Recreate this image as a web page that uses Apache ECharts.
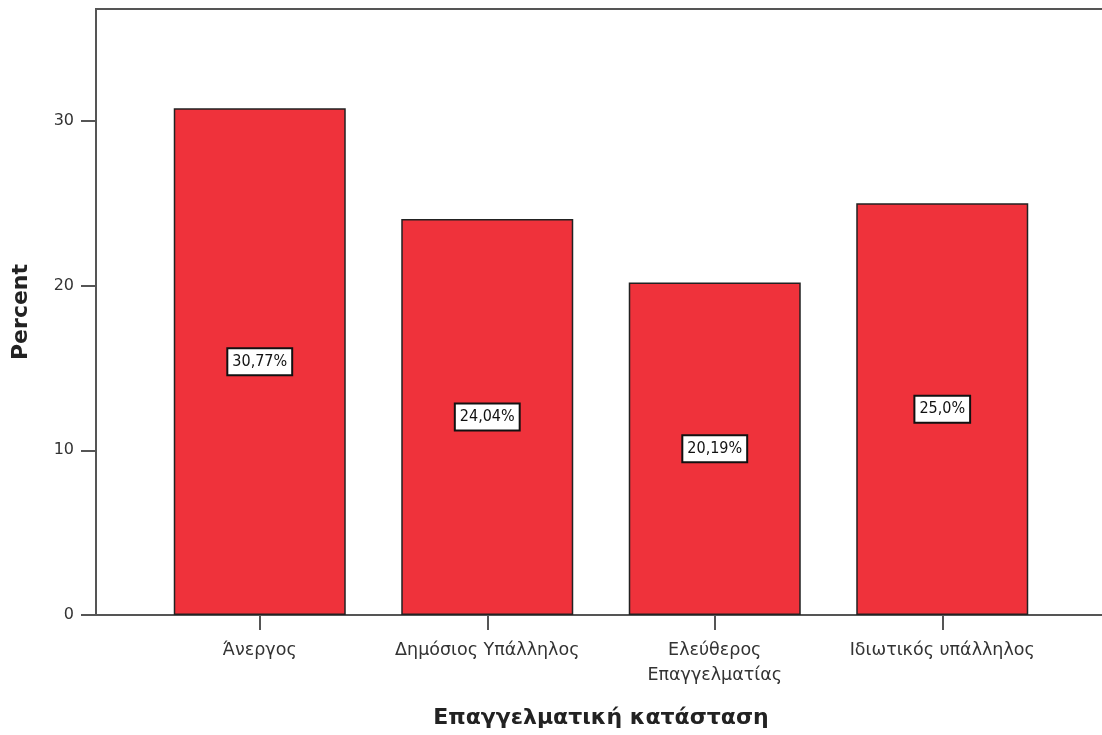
<!DOCTYPE html>
<html>
<head>
<meta charset="utf-8">
<script src="https://cdn.jsdelivr.net/npm/echarts@6/dist/echarts.min.js"></script>
<style>
html,body{margin:0;padding:0;background:#fff;}
#c{width:1102px;height:735px;}
</style>
</head>
<body>
<div id="c"></div>
<script>
const categories = ['Άνεργος', 'Δημόσιος Υπάλληλος', 'Ελεύθερος\nΕπαγγελματίας', 'Ιδιωτικός υπάλληλος'];
const percents = [30.77, 24.04, 20.19, 25.0];
const valueLabels = ['30,77%', '24,04%', '20,19%', '25,0%'];
const yMin = 0, yMax = 36.8, yStep = 10;
const xTitle = 'Επαγγελματική κατάσταση';
const yTitle = 'Percent';

const chart = echarts.init(document.getElementById('c'), null, {renderer: 'canvas'});
const font = 'DejaVu Sans, Verdana, sans-serif';
chart.setOption({
  animation: false,
  backgroundColor: '#ffffff',
  grid: [
    {left: 96, right: -3, top: 9, bottom: 120, show: true, borderColor: '#555', borderWidth: 2,
     backgroundColor: 'transparent', outerBoundsMode: 'none', containLabel: false},
    {left: 146, right: 46, top: 9, bottom: 120, outerBoundsMode: 'none', containLabel: false}
  ],
  xAxis: [
    {gridIndex: 0, type: 'value', min: 0, max: 1, show: true,
     axisLine: {show: true, lineStyle: {color: '#555', width: 2}},
     axisTick: {show: false}, axisLabel: {show: false}, splitLine: {show: false}},
    {gridIndex: 1, type: 'category', data: categories,
     axisLine: {show: false},
     axisTick: {show: true, alignWithLabel: true, interval: 0, length: 15, lineStyle: {color: '#555', width: 2}},
     axisLabel: {interval: 0, hideOverlap: false, margin: 23, fontSize: 17.5, color: '#333', fontFamily: font, lineHeight: 25},
     name: xTitle, nameLocation: 'middle', nameGap: 92,
     nameTextStyle: {fontSize: 22, fontWeight: 'bold', color: '#222', fontFamily: font}}
  ],
  yAxis: [
    {gridIndex: 0, type: 'value', min: yMin, max: yMax, interval: yStep,
     axisLine: {show: true, lineStyle: {color: '#555', width: 2}},
     axisTick: {show: true, length: 15, lineStyle: {color: '#555', width: 2}},
     axisLabel: {margin: 22, fontSize: 16, color: '#333', fontFamily: font, showMaxLabel: false},
     splitLine: {show: false},
     name: yTitle, nameLocation: 'middle', nameGap: 64, nameRotate: 90,
     nameTextStyle: {fontSize: 22, fontWeight: 'bold', color: '#222', fontFamily: font}},
    {gridIndex: 1, type: 'value', min: yMin, max: yMax, interval: yStep, show: false, splitLine: {show: false}}
  ],
  series: [{
    type: 'bar',
    xAxisIndex: 1, yAxisIndex: 1,
    data: percents,
    barWidth: 172,
    itemStyle: {color: '#ef323b', borderColor: '#222', borderWidth: 1.5},
    label: {
      show: true, position: 'inside',
      formatter: p => valueLabels[p.dataIndex],
      fontSize: 16, color: '#111', fontFamily: 'DejaVu Sans Condensed, DejaVu Sans, sans-serif',
      backgroundColor: '#fff', borderColor: '#111', borderWidth: 2,
      padding: [5, 4, 4, 4]
    }
  }]
});
</script>
</body>
</html>
